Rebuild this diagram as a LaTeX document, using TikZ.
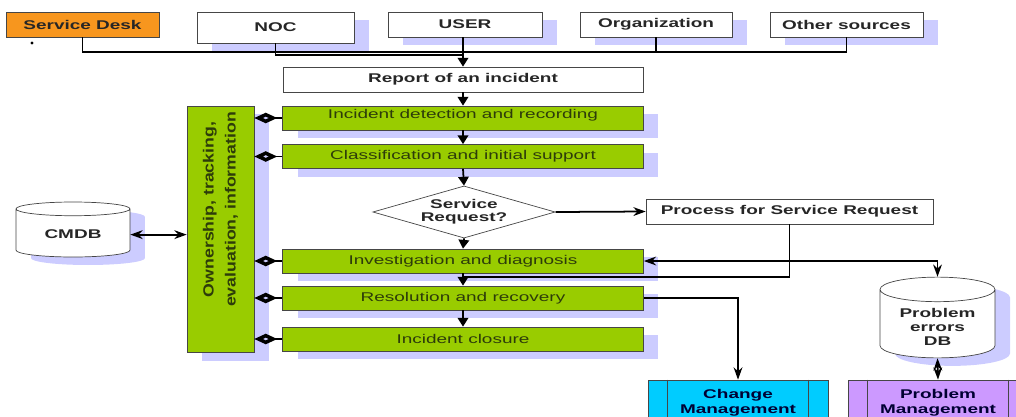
\documentclass[tikz,border=0pt]{standalone}
\usepackage{fontspec}
\setmainfont{Liberation Sans}[FakeStretch=1.5]
\newfontfamily\sidefont{Liberation Sans}[FakeStretch=1.2]
\usetikzlibrary{arrows.meta,shapes.geometric,shadows,calc}
\definecolor{deskorange}{RGB}{247,150,30}
\definecolor{stepgreen}{RGB}{153,204,0}
\definecolor{shadelav}{RGB}{204,204,255}
\definecolor{chgcyan}{RGB}{0,204,255}
\definecolor{prbpurple}{RGB}{204,153,255}
\definecolor{boxedge}{RGB}{70,70,70}
\definecolor{greentext}{RGB}{45,60,10}
\tikzset{
  lavshadow/.style={drop shadow={shadow xshift=0.3cm, shadow yshift=-0.16cm, fill=shadelav, opacity=1}},
  srcbox/.style={draw=boxedge, fill=white, minimum height=0.5cm, inner sep=1pt,
    font=\fontsize{7.2}{8.4}\selectfont\bfseries, text=black!85},
  stepbox/.style={draw=boxedge, fill=stepgreen, minimum width=7.22cm, minimum height=0.48cm, inner sep=1pt,
    font=\fontsize{7.2}{8.4}\selectfont, text=greentext, lavshadow},
  decision/.style={diamond, draw=boxedge, fill=white, aspect=3.5, inner sep=0.5pt,
    minimum width=3.3cm, minimum height=0.96cm, align=center,
    font=\fontsize{7.2}{7.6}\selectfont\bfseries, text=black!85},
  dbase/.style={cylinder, shape border rotate=90, anchor=shape center, draw=boxedge, fill=white, align=center,
    font=\fontsize{7.2}{8}\selectfont\bfseries, text=black!85},
  mgmtbox/.style={draw=boxedge, minimum width=3.6cm, minimum height=0.9cm, align=center,
    font=\fontsize{7.2}{8.4}\selectfont\bfseries, text=black!80!blue},
  wire/.style={line width=1pt, black},
  flow/.style={wire, -{Triangle[length=5pt,width=6pt]}},
  both/.style={wire, {Stealth[length=7pt,width=5pt]}-{Stealth[length=7pt,width=5pt]}},
  tie/.style={wire, -{Diamond[open,length=13pt,width=6pt,line width=2pt]}}
}
\begin{document}
\begin{tikzpicture}[x=0.02cm, y=-0.02cm]
\useasboundingbox (0,0) rectangle (1016,416);
\clip (0,0) rectangle (1016,416);
% sources
\node[srcbox, fill=deskorange, minimum width=3.06cm] (desk) at (82.5,24.5) {Service Desk};
\fill (32,43) circle (0.9pt);
\node[srcbox, lavshadow, minimum width=3.14cm, minimum height=0.62cm] (noc) at (275.5,27.5) {NOC};
\node[srcbox, lavshadow, minimum width=3.08cm] (user) at (465,24.5) {USER};
\node[srcbox, lavshadow, minimum width=3.04cm] (org) at (656,24.5) {Organization};
\node[srcbox, lavshadow, minimum width=3.06cm] (other) at (846.5,24.5) {Other sources};
% main flow
\node[srcbox, minimum width=7.2cm] (report) at (463,79.5) {Report of an incident};
\node[stepbox, text depth=5pt] (detect) at (463,118) {Incident detection and recording};
\node[stepbox] (classify) at (463,156.5) {Classification and initial support};
\node[decision] (srq) at (464,212) {Service\\Request?};
\node[stepbox] (diagnose) at (463,261) {Investigation and diagnosis};
\node[stepbox] (resolve) at (463,298) {Resolution and recovery};
\node[stepbox] (closure) at (463,339) {Incident closure};
\node[draw=boxedge, fill=stepgreen, lavshadow, rotate=90, minimum width=4.9cm, minimum height=1.34cm,
  align=center, font=\fontsize{8.4}{12.5}\sidefont\bfseries, text=greentext] (owner) at (220.5,229.5)
  {\hspace*{0.8cm}Ownership, tracking,\\\hspace*{0.8cm}evaluation, information};
% side nodes
\node[dbase, lavshadow, aspect=0.2, minimum width=2.28cm, minimum height=1.1cm] (cmdb) at (73,229.5) {CMDB};
\node[srcbox, minimum width=5.74cm] (process) at (789.5,211.5) {Process for Service Request};
\node[dbase, lavshadow, aspect=0.28, minimum width=2.3cm, minimum height=1.58cm] (errdb) at (937.5,317.5) {Problem\\errors\\DB};
\node[mgmtbox, fill=chgcyan] (change) at (738,402.5) {Change\\Management};
\node[mgmtbox, fill=prbpurple] (problem) at (938,402.5) {Problem\\Management};
\foreach \m in {change,problem} {
  \draw[boxedge] ([xshift=0.4cm]\m.north west) -- ([xshift=0.4cm]\m.south west);
  \draw[boxedge] ([xshift=-0.4cm]\m.north east) -- ([xshift=-0.4cm]\m.south east);
}
% connectors
\coordinate (busL) at (82,52);
\coordinate (nocbus) at (463,55);
\draw[wire] (desk.south) |- (other.south |- busL) -- (other.south);
\draw[wire] (org.south) -- (org.south |- busL);
\draw[wire] (noc.south) |- (nocbus);
\draw[flow] (user.south -| report.north) -- (report.north);
\draw[flow] (report.south) -- (detect.north);
\draw[flow] (detect.south) -- (classify.north);
\draw[flow] (classify.south) -- (srq.north);
\draw[flow] (srq.south) -- (diagnose.north);
\draw[flow] (diagnose.south) -- (resolve.north);
\draw[flow] (resolve.south) -- (closure.north);
\foreach \s in {detect,classify,diagnose,resolve,closure}
  \draw[tie] (\s.west) -- (\s.west -| owner.south);
\draw[both] (cmdb.east) -- (cmdb.east -| owner.north);
\draw[wire, -{Stealth[length=7pt,width=5pt]}] (srq.east) -- (process.west);
\coordinate (rejoin) at ($(diagnose.south)!0.3!(resolve.north)$);
\draw[wire] (process.south) |- (rejoin);
\draw[both] (diagnose.east) -| (errdb.north);
\draw[both] (errdb.south) -- (problem.north);
\draw[wire, -{Stealth[length=7pt,width=5pt]}] (resolve.east) -| (change.north);
\end{tikzpicture}
\end{document}
